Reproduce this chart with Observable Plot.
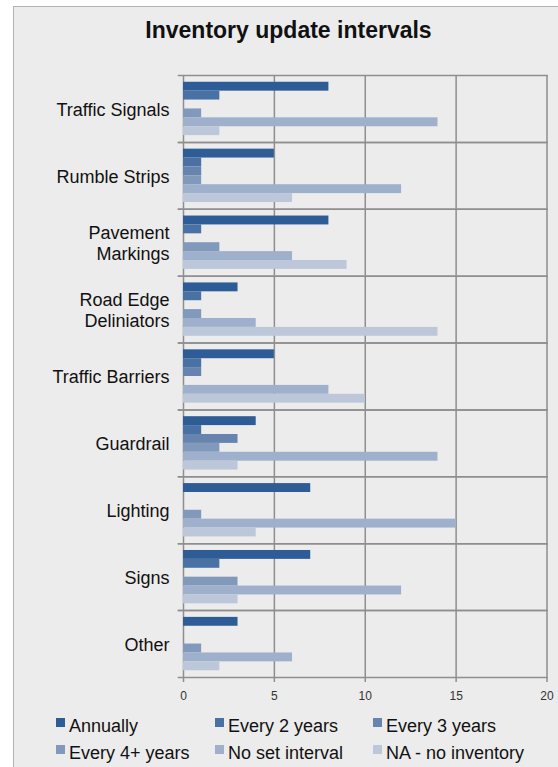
<!DOCTYPE html>
<html>
<head>
<meta charset="utf-8">
<script src="https://cdn.jsdelivr.net/npm/d3@7"></script>
<script src="https://cdn.jsdelivr.net/npm/@observablehq/plot@0.6"></script>
<style>
  html, body { margin: 0; padding: 0; background: #ffffff; overflow: hidden; width: 558px; height: 767px; }
  #card {
    position: absolute; left: 13px; top: 6px; width: 600px; height: 800px;
    background: #ececec; border-left: 1px solid #b3b3b3; border-top: 1px solid #b3b3b3;
    font-family: "Liberation Sans", Arial, sans-serif; color: #111;
  }
  #title {
    height: 59px; width: 549px; box-sizing: border-box; padding-top: 9px;
    text-align: center; font-weight: bold; font-size: 23px; line-height: 28px;
  }
  #chart svg { display: block; background: transparent; }
  #legend {
    margin-top: 7px; padding-left: 42px;
    display: grid; grid-template-columns: 159px 158px 200px;
    font-size: 18px; line-height: 27px; color: #111;
  }
  #legend .item { white-space: nowrap; }
  #legend .sw { display: inline-block; width: 9px; height: 9px; margin-right: 4px; vertical-align: 5px; }
</style>
</head>
<body>
<div id="card">
  <div id="title">Inventory update intervals</div>
  <div id="chart"></div>
  <div id="legend"></div>
</div>
<script>
const categories = ["Traffic Signals", "Rumble Strips", "Pavement\nMarkings", "Road Edge\nDeliniators", "Traffic Barriers", "Guardrail", "Lighting", "Signs", "Other"];
const series = ["Annually", "Every 2 years", "Every 3 years", "Every 4+ years", "No set interval", "NA - no inventory"];
const annually      = [8, 5, 8, 3, 5, 4, 7, 7, 3];
const every2years   = [2, 1, 1, 1, 1, 1, 0, 2, 0];
const every3years   = [0, 1, 0, 0, 1, 3, 0, 0, 0];
const every4years   = [1, 1, 2, 1, 0, 2, 1, 3, 1];
const noSetInterval = [14, 12, 6, 4, 8, 14, 15, 12, 6];
const naNoInventory = [2, 6, 9, 14, 10, 3, 4, 3, 2];
const xTicks = [0, 5, 10, 15, 20];
const colors = ["#2e5c96", "#4a71a3", "#6784ae", "#8199bb", "#9eb0cb", "#bcc8da"];

const seriesValues = [annually, every2years, every3years, every4years, noSetInterval, naNoInventory];
const data = [];
categories.forEach((c, i) => {
  series.forEach((s, j) => data.push({category: c, series: s, value: seriesValues[j][i]}));
});

const grid = "#8e8e8e";
const chart = Plot.plot({
  width: 545,
  height: 640,
  marginLeft: 169,
  marginRight: 12.5,
  marginTop: 9,
  marginBottom: 29,
  style: {fontFamily: "'Liberation Sans', Arial, sans-serif", background: "transparent"},
  x: {domain: [0, 20], ticks: xTicks},
  y: {domain: series, paddingInner: 0, paddingOuter: 0.76, round: false, axis: null},
  fy: {domain: categories, padding: 0, round: false},
  color: {domain: series, range: colors},
  marks: [
    Plot.ruleX(xTicks, {stroke: grid, strokeWidth: 1.5}),
    Plot.barX(data, {fy: "category", y: "series", x: "value", fill: "series"}),
    Plot.frame({anchor: "top", stroke: grid, strokeWidth: 1.5, insetLeft: -5}),
    Plot.frame({anchor: "bottom", stroke: grid, strokeWidth: 1.5, insetLeft: -5}),
    Plot.axisX({anchor: "bottom", ticks: xTicks, tickSize: 5, tickPadding: 9, fontSize: 12, stroke: grid, strokeWidth: 1.5, color: "#333", label: null}),
    Plot.axisFy({anchor: "left", tickSize: 0, tickPadding: 14, fontSize: 18, lineHeight: 1.2, color: "#111", label: null})
  ]
});
document.getElementById("chart").appendChild(chart);

const legend = document.getElementById("legend");
series.forEach((s, j) => {
  const item = document.createElement("div");
  item.className = "item";
  const sw = document.createElement("span");
  sw.className = "sw";
  sw.style.background = colors[j];
  item.appendChild(sw);
  item.appendChild(document.createTextNode(s));
  legend.appendChild(item);
});
</script>
</body>
</html>
